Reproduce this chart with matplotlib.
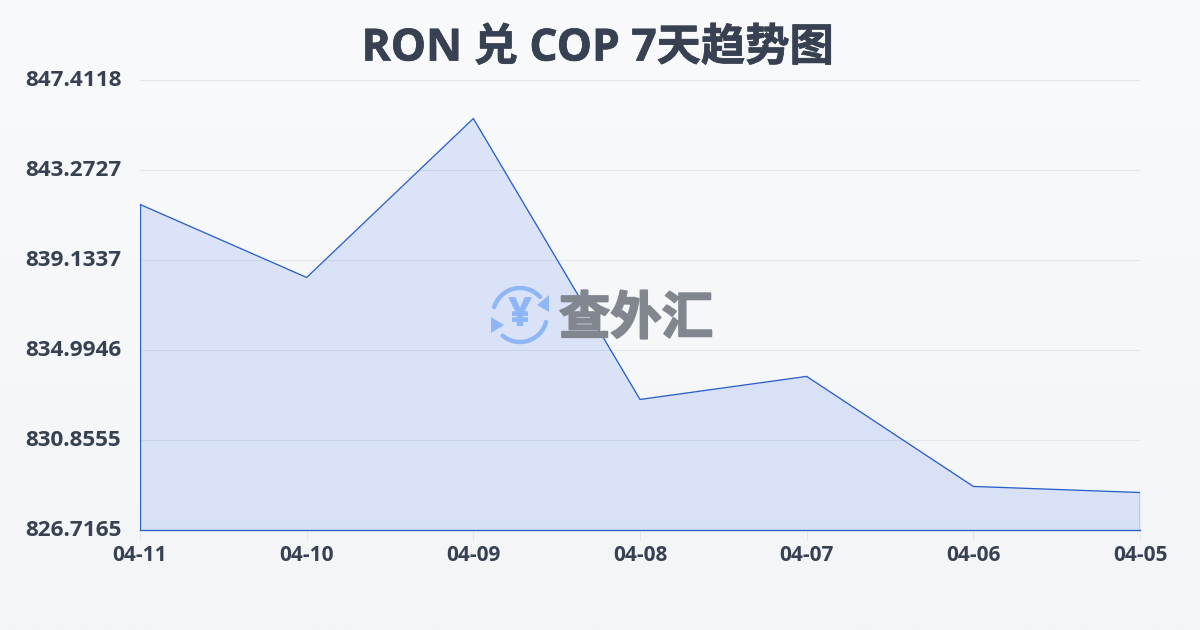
import numpy as np
import matplotlib
matplotlib.use('Agg')
import matplotlib.pyplot as plt
import matplotlib.patheffects as pe
from matplotlib.patches import Arc, Polygon
from matplotlib.transforms import ScaledTranslation

plt.rcParams['font.family'] = ['Open Sans', 'Noto Sans CJK SC', 'DejaVu Sans']

# data
dates = ['04-11', '04-10', '04-09', '04-08', '04-07', '04-06', '04-05']
rates = [841.69, 838.33, 845.64, 832.72, 833.78, 828.72, 828.44]
y_ticks = [826.7165, 830.8555, 834.9946, 839.1337, 843.2727, 847.4118]
title = 'RON 兑 COP 7天趋势图'
logo_text = '查外汇'

W, H = 1200, 630
fig = plt.figure(figsize=(W / 100, H / 100), dpi=100)

# background gradient
bg = fig.add_axes([0, 0, 1, 1], zorder=0)
bg.imshow(np.linspace(0, 1, 256).reshape(-1, 1), aspect='auto', extent=(0, 1, 0, 1),
          cmap=matplotlib.colors.LinearSegmentedColormap.from_list('bg', ['#f9fafc', '#f3f5f7']))
bg.axis('off')

ax = fig.add_axes([140 / W, 1 - 530 / H, 1000 / W, 450 / H], zorder=1)
ax.patch.set_alpha(0)
x = np.arange(len(dates))
line_col = '#2b5fc9'
ax.fill_between(x, rates, y_ticks[0], color='#3b6ff0', alpha=0.15, lw=0, zorder=2)
ax.plot(x, rates, color=line_col, lw=0.95, zorder=3)
ax.plot([0, 0], [y_ticks[0], rates[0]], color=line_col, lw=0.95, zorder=3)
ax.plot([x[-1], x[-1]], [y_ticks[0], rates[-1]], color=line_col, lw=0.95, zorder=3)
ax.plot([0, x[-1]], [y_ticks[0], y_ticks[0]], color=line_col, lw=0.95, zorder=3, clip_on=False)

ax.set_xlim(0, x[-1])
ax.set_ylim(y_ticks[0], y_ticks[-1])
ax.set_xticks(x, dates)
ax.set_yticks(y_ticks, [f'{v:.4f}' for v in y_ticks])
ax.grid(axis='y', color='#e3e6eb', lw=0.8, zorder=1)
ax.set_axisbelow(True)
for s in ax.spines.values():
    s.set_visible(False)
ax.tick_params(axis='y', length=0, pad=13.5, labelsize=16.2, labelcolor='#374151')
ax.tick_params(axis='x', length=8, width=0.7, color='#e3e6eb', pad=3, labelsize=15, labelcolor='#374151')
for lab in ax.get_xticklabels() + ax.get_yticklabels():
    lab.set_fontweight('bold')
# y labels sit 2px above their gridlines
shift = ScaledTranslation(0, 2 / 100, fig.dpi_scale_trans)
for lab in ax.get_yticklabels():
    lab.set_transform(lab.get_transform() + shift)

fig.text(0.498, 1 - 49 / H, title, ha='center', va='center', fontsize=31.9,
         fontweight='bold', color='#374151',
         path_effects=[pe.withStroke(linewidth=0.5, foreground='#374151')])

# watermark on top, in pixel coordinates
wm = fig.add_axes([0, 0, 1, 1], zorder=3)
wm.set_xlim(0, W)
wm.set_ylim(H, 0)
wm.axis('off')
blue = '#8fb7f5'
cx, cy = 520, 315
wm.add_patch(Arc((cx, cy), 54, 54, theta1=197, theta2=318, color=blue, lw=3.2, capstyle='round'))
wm.add_patch(Arc((cx, cy), 54, 54, theta1=15, theta2=130, color=blue, lw=3.2, capstyle='round'))
wm.add_patch(Polygon([(549, 295), (549, 312), (537, 305)], color=blue, lw=0))
wm.add_patch(Polygon([(491, 317), (491, 333), (504, 325)], color=blue, lw=0))
wm.text(cx, cy, '¥', ha='center', va='center', fontsize=28, fontweight='bold', color=blue,
        path_effects=[pe.withStroke(linewidth=0.8, foreground=blue)])
wm.text(636, 321, logo_text, ha='center', va='center', fontsize=37, fontweight='bold',
        color='#82878f',
        path_effects=[pe.withStroke(linewidth=1.4, foreground='#82878f')])

fig.savefig('out.png', dpi=100)
